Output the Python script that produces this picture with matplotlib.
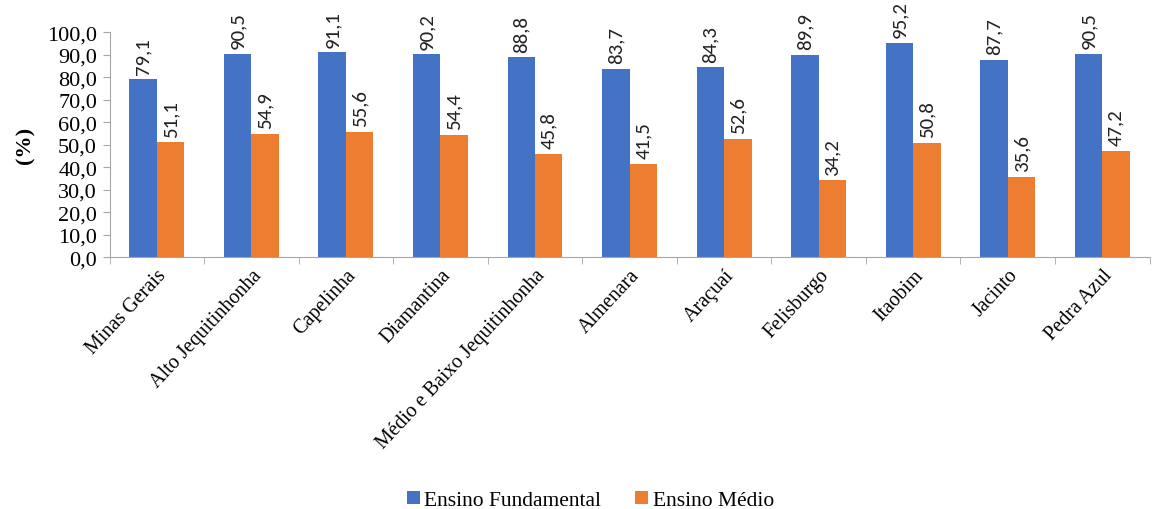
import numpy as np
import matplotlib.pyplot as plt

# dados
regioes = ['Minas Gerais', 'Alto Jequitinhonha', 'Capelinha', 'Diamantina',
           'Médio e Baixo Jequitinhonha', 'Almenara', 'Araçuaí', 'Felisburgo',
           'Itaobim', 'Jacinto', 'Pedra Azul']
fundamental = [79.1, 90.5, 91.1, 90.2, 88.8, 83.7, 84.3, 89.9, 95.2, 87.7, 90.5]
medio = [51.1, 54.9, 55.6, 54.4, 45.8, 41.5, 52.6, 34.2, 50.8, 35.6, 47.2]

serif = ['Liberation Serif', 'DejaVu Serif']
sans = ['Carlito', 'Liberation Sans', 'DejaVu Sans']

fig = plt.figure(figsize=(11.53, 5.10), dpi=100)
ax = fig.add_axes([0.095, 0.494, 0.902, 0.441])

x = np.arange(len(regioes))
w = 0.29
b1 = ax.bar(x - w/2, fundamental, w, color='#4472C4', label='Ensino Fundamental')
b2 = ax.bar(x + w/2, medio, w, color='#ED7D31', label='Ensino Médio')

for bars, vals in [(b1, fundamental), (b2, medio)]:
    for r, v in zip(bars, vals):
        ax.text(r.get_x() + r.get_width()/2, v + 2.5, f'{v:.1f}'.replace('.', ','),
                rotation=90, ha='center', va='bottom', fontsize=15,
                family=sans, color='#222222')

ax.set_xlim(-0.5, len(regioes) - 0.5)
ax.set_ylim(0, 100)
ax.set_yticks(np.arange(0, 101, 10))
ax.set_yticklabels([f'{t:.1f}'.replace('.', ',') for t in np.arange(0, 101, 10)],
                   family=serif, fontsize=16)
ax.set_xticks(x)
ax.set_xticklabels(regioes, rotation=47, ha='right', rotation_mode='anchor',
                   family=serif, fontsize=14.5)
ax.set_xticks(np.arange(-0.5, len(regioes)), minor=True)
ax.tick_params(axis='x', which='major', length=0, pad=6)
ax.tick_params(axis='x', which='minor', length=5, color='#A6A6A6')
ax.tick_params(axis='y', length=5, color='#A6A6A6', pad=4)

for s in ['top', 'right']:
    ax.spines[s].set_visible(False)
ax.spines['left'].set_color('#A6A6A6')
ax.spines['bottom'].set_color('#A6A6A6')

fig.text(0.022, 0.715, '(%)', rotation=90, ha='center', va='center',
         family=serif, fontsize=16, fontweight='bold')

fig.legend(loc='lower center', bbox_to_anchor=(0.512, -0.04), ncol=2, frameon=False,
           prop={'family': serif, 'size': 15.5}, handlelength=0.6, handleheight=0.6,
           handletextpad=0.2, columnspacing=1.6)

fig.savefig('out.png', dpi=100)
